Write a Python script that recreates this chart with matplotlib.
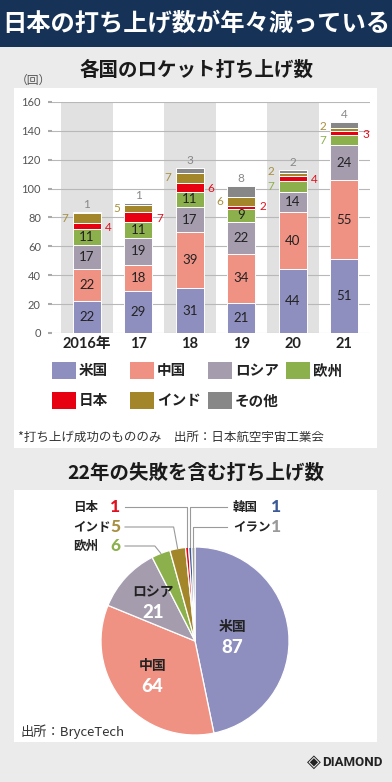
import matplotlib
matplotlib.use("Agg")
import matplotlib.pyplot as plt
from matplotlib.patches import Rectangle
from matplotlib.lines import Line2D
import numpy as np

# ---------------- data ----------------
years = ["2016年", "17", "18", "19", "20", "21"]
series_names = ["米国", "中国", "ロシア", "欧州", "日本", "インド", "その他"]
usa = [22, 29, 31, 21, 44, 51]
china = [22, 18, 39, 34, 40, 55]
russia = [17, 19, 17, 22, 14, 24]
europe = [11, 11, 11, 9, 7, 7]
japan = [4, 7, 6, 2, 4, 3]
india = [7, 5, 7, 6, 2, 2]
other = [1, 1, 3, 8, 2, 4]
y_ticks = [0, 20, 40, 60, 80, 100, 120, 140, 160]

pie_labels = ["米国", "中国", "ロシア", "欧州", "インド", "日本", "韓国", "イラン"]
pie_values = [87, 64, 21, 6, 5, 1, 1, 1]

# ---------------- style ----------------
C_US = "#8e8fbf"
C_CN = "#f09283"
C_RU = "#a59cae"
C_EU = "#8cb14c"
C_JP = "#e60012"
C_IN = "#a3862a"
C_OT = "#878787"
C_KR = "#3c5a98"
C_IR = "#9c9c9c"
bar_colors = [C_US, C_CN, C_RU, C_EU, C_JP, C_IN, C_OT]
pie_colors = [C_US, C_CN, C_RU, C_EU, C_IN, C_JP, C_KR, C_IR]

JP = ["Noto Sans CJK JP", "DejaVu Sans"]
NUM = ["Lato", "Noto Sans CJK JP"]

W, H = 392, 782
fig = plt.figure(figsize=(W / 100, H / 100), dpi=100)
fig.patch.set_facecolor("#ebebeb")


def fx(x):
    return x / W


def fy(y):
    return 1 - y / H


def rect(x0, y0, x1, y1, color, z=-1):
    fig.patches.append(Rectangle((fx(x0), fy(y1)), fx(x1) - fx(x0), fy(y0) - fy(y1),
                                 transform=fig.transFigure, facecolor=color,
                                 edgecolor="none", zorder=z))


def ftext(x, y, s, **kw):
    fig.text(fx(x), fy(y), s, **kw)


# banner & panels
rect(0, 0, W, 47, "#163357")
rect(14, 88, 377, 448, "white")
rect(14, 490, 377, 742, "white")

ftext(196, 24, "日本の打ち上げ数が年々減っている", family=JP, weight="bold",
      fontsize=17.5, color="white", ha="center", va="center")
ftext(196, 70, "各国のロケット打ち上げ数", family=JP, weight="bold",
      fontsize=14, color="#1a1a1a", ha="center", va="center")
ftext(16, 80, "（回）", family=JP, fontsize=8.5, color="#555555", ha="left", va="center")

# ---------------- bar chart ----------------
ax = fig.add_axes([fx(52), fy(333), fx(370) - fx(52), fy(102) - fy(333)])
ax.set_facecolor("white")
x = np.arange(len(years))
ax.set_xlim(-0.5 - 9 / 51.5, len(years) - 0.5)
ax.set_ylim(0, 160)
for i in x:
    if i % 2 == 0:
        ax.axvspan(i - 0.5, i + 0.5, color="#e1e1e1", zorder=0, lw=0)
for t in y_ticks:
    ax.axhline(t, color="#b8b8b8", lw=0.8, zorder=1)
for s in ax.spines.values():
    s.set_visible(False)
ax.set_yticks(y_ticks)
ax.set_yticklabels([str(t) for t in y_ticks], family=NUM, fontsize=8, color="#555555")
ax.tick_params(axis="y", length=3, width=1.5, color="#aaaaaa", pad=5)
ax.set_xticks(x)
ax.set_xticklabels(years, family=NUM, fontsize=10.5, weight="bold", color="#222222")
ax.tick_params(axis="x", length=0, pad=3)

bw = 0.54
all_series = [usa, china, russia, europe, japan, india, other]
bottom = np.zeros(len(years))
for k, (vals, col) in enumerate(zip(all_series, bar_colors)):
    vals = np.array(vals, dtype=float)
    ax.bar(x, vals, bw, bottom=bottom, color=col, edgecolor="white", lw=0.7, zorder=2)
    for i, v in enumerate(vals):
        cy = bottom[i] + v / 2
        nudge = 2 if v <= 2 else 0
        if k in (0, 1, 2) or (k == 3 and v >= 9):
            ax.text(i, cy, f"{int(v)}", family=NUM, fontsize=9.5, color="#222222",
                    ha="center", va="center", zorder=3)
        elif k == 3:
            ax.annotate(f"{int(v)}", (i - bw / 2, cy), xytext=(-3, nudge),
                        textcoords="offset points", family=NUM, fontsize=8.5,
                        color="#8cb14c", ha="right", va="center")
        elif k == 4:
            ax.annotate(f"{int(v)}", (i + bw / 2, cy), xytext=(3, nudge - 1),
                        textcoords="offset points", family=NUM, fontsize=8.5,
                        color="#e0101e", ha="left", va="center")
        elif k == 5:
            ax.annotate(f"{int(v)}", (i - bw / 2, cy), xytext=(-3, nudge),
                        textcoords="offset points", family=NUM, fontsize=8.5,
                        color="#a89040", ha="right", va="center")
        else:
            ax.annotate(f"{int(v)}", (i, bottom[i] + v), xytext=(0, 1.5),
                        textcoords="offset points", family=NUM, fontsize=8.5,
                        color="#888888", ha="center", va="bottom")
    bottom += vals

# legend (manual)
for j, (name, col) in enumerate(zip(series_names, bar_colors)):
    row, c = divmod(j, 4)
    x0 = 52 + c * 78
    y0 = 362 + row * 30
    rect(x0, y0, x0 + 24, y0 + 17, col, z=2)
    ftext(x0 + 27, y0 + 8.5, name, family=JP, weight="bold", fontsize=10.5,
          color="#222222", ha="left", va="center")

ftext(18, 437, "*打ち上げ成功のもののみ　出所：日本航空宇宙工業会", family=JP,
      fontsize=9, color="#333333", ha="left", va="center")

# ---------------- pie chart ----------------
ftext(196, 473, "22年の失敗を含む打ち上げ数", family=JP, weight="bold",
      fontsize=14, color="#1a1a1a", ha="center", va="center")

cx, cy, R = 195, 641, 94
pax = fig.add_axes([fx(cx - R), fy(cy + R), fx(2 * R), fy(0) - fy(2 * R)])
wedges, _ = pax.pie(pie_values, colors=pie_colors, startangle=90, counterclock=False,
                    wedgeprops=dict(edgecolor="white", linewidth=0.9))
pax.set_xlim(-1, 1)
pax.set_ylim(-1, 1)
pax.set_aspect("equal")
pax.axis("off")

inner_r = {0: 0.40, 1: 0.59, 2: 0.61}
for idx, r in inner_r.items():
    w = wedges[idx]
    ang = np.deg2rad((w.theta1 + w.theta2) / 2)
    px_, py_ = r * np.cos(ang), r * np.sin(ang)
    pax.text(px_, py_ + 0.11, pie_labels[idx], family=JP, weight="bold", fontsize=10,
             color="#222222", ha="center", va="center")
    pax.text(px_, py_ - 0.11, str(pie_values[idx]), family=NUM, weight="black",
             fontsize=13.5, color="white", ha="center", va="center")

# callouts
fig.canvas.draw()


def wedge_point(idx, r=1.0):
    w = wedges[idx]
    ang = np.deg2rad((w.theta1 + w.theta2) / 2)
    disp = pax.transData.transform((r * np.cos(ang), r * np.sin(ang)))
    return disp[0], H - disp[1]  # pixel coords from top


num_colors = {3: "#8cb14c", 4: "#a89040", 5: "#e0101e", 6: "#3c5a98", 7: "#9a9a9a"}
left = [(5, 507, 0), (4, 527, -4), (3, 546, -6)]
for idx, ty, koff in left:
    wx, wy = wedge_point(idx, 1.0)
    ftext(73, ty, pie_labels[idx], family=JP, weight="bold", fontsize=9,
          color="#222222", ha="left", va="center")
    ftext(115, ty, str(pie_values[idx]), family=NUM, weight="black", fontsize=12.5,
          color=num_colors[idx], ha="center", va="center")
    kx = wx + koff
    xs = [125, kx, wx]
    ys = [ty, ty, wy]
    fig.lines.append(Line2D([fx(v) for v in xs], [fy(v) for v in ys],
                            transform=fig.transFigure, color="#9a9a9a", lw=0.8))

right = [(6, 507), (7, 527)]
for idx, ty in right:
    wx, wy = wedge_point(idx, 1.0)
    ftext(233, ty, pie_labels[idx], family=JP, weight="bold", fontsize=9,
          color="#222222", ha="left", va="center")
    ftext(276, ty, str(pie_values[idx]), family=NUM, weight="black", fontsize=12.5,
          color=num_colors[idx], ha="center", va="center")
    xs = [227, wx, wx]
    ys = [ty, ty, wy]
    fig.lines.append(Line2D([fx(v) for v in xs], [fy(v) for v in ys],
                            transform=fig.transFigure, color="#9a9a9a", lw=0.8))

ftext(20, 732, "出所：BryceTech", family=JP, fontsize=9.5, color="#333333",
      ha="left", va="center")

# logo
ftext(314, 762, "◈", family="DejaVu Sans", fontsize=13, color="#222222",
      ha="center", va="center")
ftext(322, 762, "DIAMOND", family="Roboto", weight="bold", fontsize=9.5,
      color="#222222", ha="left", va="center")

fig.savefig("out.png", dpi=100, facecolor=fig.get_facecolor())
